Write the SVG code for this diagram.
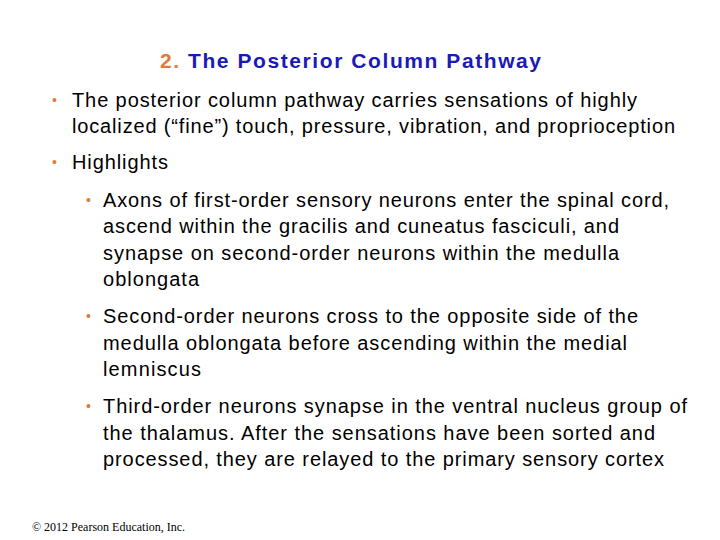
<svg xmlns="http://www.w3.org/2000/svg" width="720" height="540" viewBox="0 0 720 540">
<style>
.t{font-family:"Liberation Sans",Arial,sans-serif;font-size:20px;fill:#000}
.b{font-family:"Liberation Sans",Arial,sans-serif;fill:#e07b39;font-size:14px}
</style>
<rect width="720" height="540" fill="#fff"/>
<text x="160" y="68" font-family="Liberation Sans,Arial,sans-serif" font-size="21" font-weight="bold" textLength="381" lengthAdjust="spacing"><tspan fill="#e07b39">2.</tspan><tspan fill="#1a1ab8"> The Posterior Column Pathway</tspan></text>
<text class="b" x="52" y="105">•</text>
<text class="t" x="72" y="107" textLength="565">The posterior column pathway carries sensations of highly</text>
<text class="t" x="72" y="133" textLength="603">localized (“fine”) touch, pressure, vibration, and proprioception</text>
<text class="b" x="52" y="167">•</text>
<text class="t" x="72" y="169" textLength="96">Highlights</text>
<text class="b" x="86" y="205">•</text>
<text class="t" x="103" y="207" textLength="566">Axons of first-order sensory neurons enter the spinal cord,</text>
<text class="t" x="103" y="233" textLength="516">ascend within the gracilis and cuneatus fasciculi, and</text>
<text class="t" x="103" y="260" textLength="516">synapse on second-order neurons within the medulla</text>
<text class="t" x="103" y="286" textLength="96">oblongata</text>
<text class="b" x="86" y="321">•</text>
<text class="t" x="103" y="323" textLength="535">Second-order neurons cross to the opposite side of the</text>
<text class="t" x="103" y="350" textLength="524">medulla oblongata before ascending within the medial</text>
<text class="t" x="103" y="376" textLength="98">lemniscus</text>
<text class="b" x="86" y="411">•</text>
<text class="t" x="103" y="413" textLength="584">Third-order neurons synapse in the ventral nucleus group of</text>
<text class="t" x="103" y="440" textLength="552">the thalamus. After the sensations have been sorted and</text>
<text class="t" x="103" y="466" textLength="561">processed, they are relayed to the primary sensory cortex</text>
<text x="32" y="531" font-family="Liberation Serif,Times New Roman,serif" font-size="12">© 2012 Pearson Education, Inc.</text>
</svg>
